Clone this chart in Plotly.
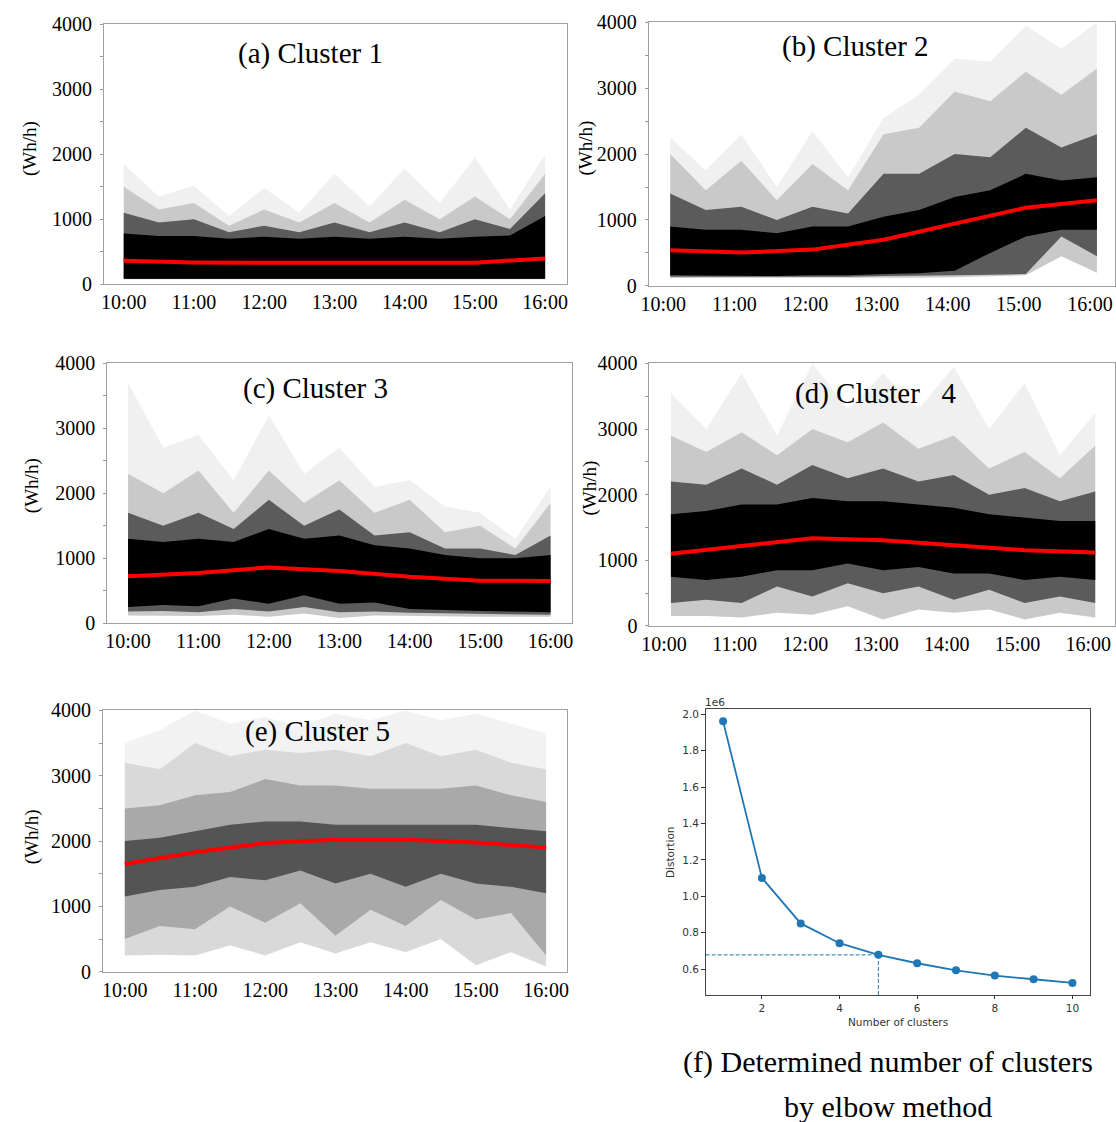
import plotly.graph_objects as go

W, H = 1116, 1122

# ---------------- data ----------------
HOURS = ["10:00", "11:00", "12:00", "13:00", "14:00", "15:00", "16:00"]

# Cluster mean profiles (Wh/h), one value per hour
a_mean = [360, 335, 330, 325, 325, 330, 395]
b_mean = [540, 505, 550, 700, 945, 1185, 1300]
c_mean = [725, 775, 860, 805, 715, 655, 650]
d_mean = [1100, 1220, 1335, 1305, 1235, 1155, 1120]
e_mean = [1650, 1830, 1970, 2020, 2020, 1980, 1900]

# Envelopes of the individual profiles, read at every half hour (10:00, 10:30, ..., 16:00)
a_mx = [1850, 1350, 1520, 1050, 1480, 1100, 1700, 1200, 1780, 1250, 1950, 1150, 2000]
a_hi = [1500, 1150, 1250, 900, 1150, 950, 1250, 950, 1300, 1000, 1350, 1000, 1700]
a_hi2 = [1100, 950, 1000, 800, 900, 800, 950, 800, 950, 800, 1000, 850, 1400]
a_core_hi = [780, 740, 740, 700, 730, 700, 730, 700, 730, 700, 730, 750, 1050]
a_core_lo = [85, 85, 85, 85, 85, 85, 85, 85, 85, 85, 85, 85, 85]
a_lo2 = [80, 80, 80, 80, 80, 80, 80, 80, 80, 80, 80, 80, 80]
a_lo = [75, 75, 75, 75, 75, 75, 75, 75, 75, 75, 75, 75, 75]

b_mx = [2250, 1750, 2300, 1500, 2350, 1650, 2550, 2900, 3450, 3400, 3950, 3600, 4000]
b_hi = [2000, 1450, 1900, 1300, 1850, 1450, 2300, 2400, 2950, 2800, 3250, 2900, 3300]
b_hi2 = [1400, 1150, 1200, 1000, 1200, 1100, 1700, 1700, 2000, 1950, 2400, 2100, 2300]
b_core_hi = [900, 850, 850, 800, 900, 900, 1050, 1150, 1350, 1450, 1700, 1600, 1650]
b_core_lo = [160, 155, 150, 150, 160, 160, 180, 190, 230, 500, 750, 850, 850]
b_lo2 = [140, 140, 135, 135, 140, 140, 150, 150, 160, 170, 180, 750, 450]
b_lo = [120, 120, 115, 115, 120, 120, 120, 125, 130, 140, 160, 450, 200]

c_mx = [3700, 2700, 2900, 2200, 3200, 2300, 2700, 2100, 2200, 1800, 1700, 1300, 2100]
c_hi = [2300, 2000, 2350, 1700, 2350, 1850, 2200, 1700, 1900, 1400, 1500, 1150, 1850]
c_hi2 = [1700, 1500, 1700, 1450, 1900, 1500, 1750, 1350, 1400, 1150, 1150, 1050, 1350]
c_core_hi = [1300, 1250, 1300, 1250, 1450, 1300, 1350, 1200, 1150, 1050, 1000, 1000, 1050]
c_core_lo = [250, 280, 260, 380, 300, 430, 300, 320, 220, 200, 190, 180, 170]
c_lo2 = [180, 190, 170, 220, 180, 250, 170, 180, 160, 150, 140, 140, 130]
c_lo = [120, 120, 110, 130, 100, 150, 80, 120, 110, 110, 100, 100, 100]

d_mx = [3550, 3000, 3850, 2900, 4000, 3300, 3850, 3300, 3950, 3000, 3700, 2600, 3250]
d_hi = [2900, 2650, 2950, 2600, 3000, 2800, 3100, 2700, 2900, 2400, 2650, 2250, 2750]
d_hi2 = [2200, 2150, 2400, 2150, 2450, 2250, 2400, 2200, 2300, 2000, 2100, 1900, 2050]
d_core_hi = [1700, 1750, 1850, 1850, 1950, 1900, 1900, 1850, 1800, 1700, 1650, 1600, 1600]
d_core_lo = [750, 700, 750, 850, 850, 950, 850, 900, 800, 800, 700, 750, 700]
d_lo2 = [350, 400, 350, 600, 450, 650, 500, 600, 400, 550, 350, 450, 350]
d_lo = [150, 150, 130, 200, 170, 300, 100, 250, 200, 250, 100, 200, 130]

e_mx = [3500, 3700, 4000, 3800, 3900, 3750, 3950, 3850, 4000, 3850, 3950, 3800, 3650]
e_hi = [3200, 3100, 3500, 3300, 3400, 3350, 3400, 3300, 3500, 3300, 3400, 3200, 3100]
e_hi2 = [2500, 2550, 2700, 2750, 2950, 2850, 2850, 2800, 2800, 2800, 2850, 2700, 2600]
e_core_hi = [2000, 2050, 2150, 2250, 2300, 2300, 2250, 2250, 2250, 2250, 2250, 2200, 2150]
e_core_lo = [1150, 1250, 1300, 1450, 1400, 1550, 1350, 1500, 1300, 1500, 1350, 1300, 1200]
e_lo2 = [500, 700, 650, 1000, 750, 1050, 550, 950, 700, 1100, 800, 900, 250]
e_lo = [250, 260, 250, 400, 250, 450, 280, 450, 300, 500, 100, 300, 80]

# Elbow method
ELBOW_K = [1, 2, 3, 4, 5, 6, 7, 8, 9, 10]
DISTORTION_1E6 = [1.962, 1.101, 0.851, 0.742, 0.678, 0.632, 0.593, 0.564, 0.544, 0.524]
CHOSEN_K = 5

Y_TICKS = [0, 1000, 2000, 3000, 4000]
Y_MINOR = [500, 1500, 2500, 3500]

# ---------------- helpers ----------------
def fx(p):
    return p / W

def fy(p):
    q = (p - 9.4) / 0.983
    return 1 - q / H

hour_pos = list(range(len(HOURS)))
half_pos = [i / 2 for i in range(2 * len(HOURS) - 1)]

SERIF = "Liberation Serif"

panels = [
    dict(n=1, title="(a) Cluster 1", tpos=(230, 52), ylab=(22, 147), shift=0,
         dom_x=(96.7, 563.3), dom_y=(22.7, 283.3), xr=(-0.282, 6.308),
         env=(a_lo, a_lo2, a_core_lo, a_core_hi, a_hi2, a_hi, a_mx), mean=a_mean, light=False),
    dict(n=2, title="(b) Cluster 2", tpos=(778, 45), ylab=(583, 147), shift=-7,
         dom_x=(646, 1116), dom_y=(20.7, 285), xr=(-0.301, 6.254),
         env=(b_lo, b_lo2, b_core_lo, b_core_hi, b_hi2, b_hi, b_mx), mean=b_mean, light=False),
    dict(n=3, title="(c) Cluster 3", tpos=(235, 388), ylab=(25, 485), shift=0,
         dom_x=(100, 568.3), dom_y=(362.7, 623.3), xr=(-0.296, 6.300),
         env=(c_lo, c_lo2, c_core_lo, c_core_hi, c_hi2, c_hi, c_mx), mean=c_mean, light=False),
    dict(n=4, title="(d) Cluster\u00a0\u00a0 4", tpos=(791, 393), ylab=(587, 488), shift=-7,
         dom_x=(646.7, 1116), dom_y=(362.7, 626), xr=(-0.303, 6.279),
         env=(d_lo, d_lo2, d_core_lo, d_core_hi, d_hi2, d_hi, d_mx), mean=d_mean, light=False),
    dict(n=5, title="(e) Cluster 5", tpos=(237, 732), ylab=(25, 837), shift=0,
         dom_x=(95.7, 563.8), dom_y=(710.7, 972.7), xr=(-0.311, 6.301),
         env=(e_lo, e_lo2, e_core_lo, e_core_hi, e_hi2, e_hi, e_mx), mean=e_mean, light=True),
]

fig = go.Figure()
layout = dict(
    width=W, height=H, margin=dict(l=0, r=0, t=0, b=0),
    paper_bgcolor="white", plot_bgcolor="white", showlegend=False,
    annotations=[],
)


def band(xa, ya, lower, upper, color):
    fig.add_trace(go.Scatter(x=half_pos, y=lower, mode="lines", line=dict(width=0),
                             xaxis=xa, yaxis=ya, hoverinfo="skip", showlegend=False))
    fig.add_trace(go.Scatter(x=half_pos, y=upper, mode="lines", line=dict(width=0),
                             fill="tonexty", fillcolor=color,
                             xaxis=xa, yaxis=ya, hoverinfo="skip", showlegend=False))


for p in panels:
    n = p["n"]
    xa, ya = f"x{n}", f"y{n}"
    lo, lo2, core_lo, core_hi, hi2, hi, mx = p["env"]
    if p["light"]:
        cols = ["rgba(0,0,0,0.05)", "rgba(0,0,0,0.10)", "rgba(0,0,0,0.22)", "rgba(0,0,0,0.50)"]
    else:
        cols = ["rgba(0,0,0,0.06)", "rgba(0,0,0,0.16)", "rgba(0,0,0,0.55)", "rgb(0,0,0)"]
    band(xa, ya, lo, mx, cols[0])
    band(xa, ya, lo, hi, cols[1])
    band(xa, ya, lo2, hi2, cols[2])
    band(xa, ya, core_lo, core_hi, cols[3])
    fig.add_trace(go.Scatter(x=hour_pos, y=p["mean"], mode="lines",
                             line=dict(color="#ff0000", width=4),
                             xaxis=xa, yaxis=ya, hoverinfo="skip", showlegend=False))

    layout[f"xaxis{n}"] = dict(
        domain=[fx(p["dom_x"][0]), min(1.0, fx(p["dom_x"][1]))],
        range=list(p["xr"]), anchor=ya,
        tickvals=hour_pos, ticktext=HOURS, ticks="",
        ticklabeloverflow="allow", ticklabelshift=p["shift"],
        showline=True, linecolor="#a0a0a0", linewidth=1, mirror=True,
        showgrid=False, zeroline=False,
        tickfont=dict(family=SERIF, size=20, color="black"),
    )
    layout[f"yaxis{n}"] = dict(
        domain=[fy(p["dom_y"][1]), fy(p["dom_y"][0])],
        range=[0, 4000], anchor=xa,
        tickvals=Y_TICKS, ticks="outside", ticklen=3, tickcolor="#999999",
        minor=dict(tickvals=Y_MINOR, ticks="outside", ticklen=3, tickcolor="#999999"),
        showline=True, linecolor="#a0a0a0", linewidth=1, mirror=True,
        showgrid=False, zeroline=False, ticklabelstandoff=4,
        tickfont=dict(family=SERIF, size=20, color="black"),
    )
    layout["annotations"].append(dict(
        text=p["title"], x=fx(p["tpos"][0]), y=fy(p["tpos"][1]), xref="paper", yref="paper",
        xanchor="left", yanchor="middle", showarrow=False,
        font=dict(family=SERIF, size=29, color="black")))
    layout["annotations"].append(dict(
        text="(Wh/h)", x=fx(p["ylab"][0]), y=fy(p["ylab"][1]), xref="paper", yref="paper",
        xanchor="center", yanchor="middle", showarrow=False, textangle=-90,
        font=dict(family=SERIF, size=19, color="black")))

# ---------------- elbow panel ----------------
SANS = "DejaVu Sans"
x_lo, x_hi = 0.55, 10.45
y_lo, y_hi = 0.4575, 2.0296
blue = "#1f77b4"
k_sel = ELBOW_K.index(CHOSEN_K)
fig.add_trace(go.Scatter(x=[x_lo, ELBOW_K[k_sel]], y=[DISTORTION_1E6[k_sel]] * 2, mode="lines",
                         line=dict(color=blue, width=1, dash="4px,2px"),
                         xaxis="x6", yaxis="y6", hoverinfo="skip", showlegend=False))
fig.add_trace(go.Scatter(x=[ELBOW_K[k_sel]] * 2, y=[y_lo, DISTORTION_1E6[k_sel]], mode="lines",
                         line=dict(color=blue, width=1, dash="4px,2px"),
                         xaxis="x6", yaxis="y6", hoverinfo="skip", showlegend=False))
fig.add_trace(go.Scatter(x=ELBOW_K, y=DISTORTION_1E6, mode="lines+markers",
                         line=dict(color=blue, width=1.8), marker=dict(color=blue, size=8),
                         xaxis="x6", yaxis="y6", hoverinfo="skip", showlegend=False))

layout["xaxis6"] = dict(
    domain=[fx(703.3), fx(1090.7)], range=[x_lo, x_hi], anchor="y6",
    tickvals=[2, 4, 6, 8, 10], ticks="outside", ticklen=3.5, tickcolor="#333333",
    showline=True, linecolor="#444444", linewidth=1, mirror=True,
    showgrid=False, zeroline=False,
    tickfont=dict(family=SANS, size=10.5, color="#333333"),
)
y6_ticks = [0.6, 0.8, 1.0, 1.2, 1.4, 1.6, 1.8, 2.0]
layout["yaxis6"] = dict(
    domain=[fy(996), fy(709.3)], range=[y_lo, y_hi], anchor="x6",
    tickvals=y6_ticks, ticktext=[f"{v:.1f}" for v in y6_ticks],
    ticks="outside", ticklen=3.5, tickcolor="#333333",
    showline=True, linecolor="#444444", linewidth=1, mirror=True,
    showgrid=False, zeroline=False,
    tickfont=dict(family=SANS, size=10.5, color="#333333"),
)
for txt, (px_, py_), ang, sz in [
    ("1e6", (713, 702), 0, 10.5),
    ("Distortion", (668, 853), -90, 10.5),
    ("Number of clusters", (897, 1023), 0, 10.5),
]:
    layout["annotations"].append(dict(
        text=txt, x=fx(px_), y=fy(py_), xref="paper", yref="paper",
        xanchor="center", yanchor="middle", showarrow=False, textangle=ang,
        font=dict(family=SANS, size=sz, color="#333333")))

for txt, py_ in [("(f) Determined number of clusters", 1063), ("by elbow method", 1108)]:
    layout["annotations"].append(dict(
        text=txt, x=fx(887), y=fy(py_), xref="paper", yref="paper",
        xanchor="center", yanchor="middle", showarrow=False,
        font=dict(family=SERIF, size=30, color="black")))

fig.update_layout(**layout)
fig.write_html("out.html")
